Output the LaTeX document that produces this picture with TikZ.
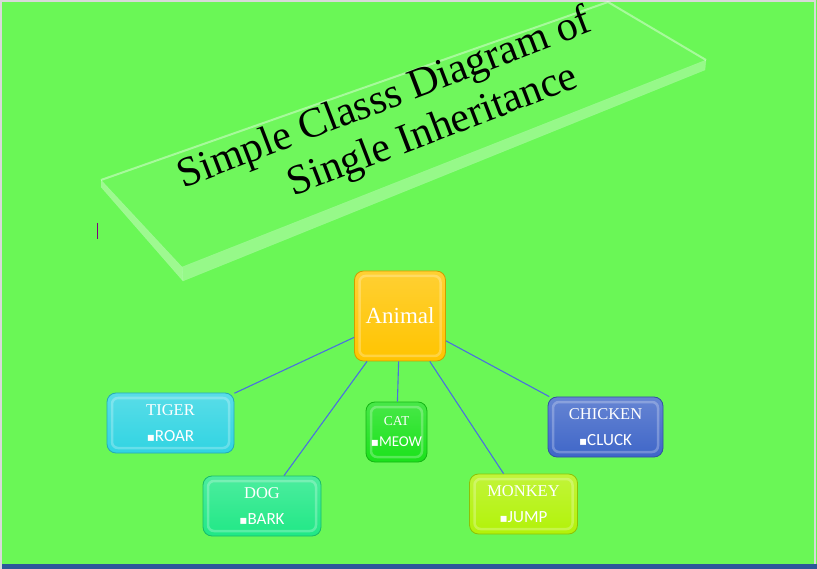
\documentclass[tikz,border=0pt]{standalone}
\usepackage{fontspec}
\setmainfont{Liberation Serif}
\newfontfamily\bulletfont{Carlito}
\newfontfamily\symfont{DejaVu Sans}
\usetikzlibrary{positioning}
\definecolor{bggreen}{HTML}{6AF756}
\definecolor{linkblue}{HTML}{4A6FE0}
\definecolor{barblue}{HTML}{2B579A}
\definecolor{animalc}{HTML}{FFC400}
\definecolor{tigerc}{HTML}{30D4E2}
\definecolor{dogc}{HTML}{20E886}
\definecolor{catc}{HTML}{1AE21A}
\definecolor{monkeyc}{HTML}{B2F208}
\definecolor{chickenc}{HTML}{3F66C8}
\newcommand{\clstext}[3][16.5]{{\fontsize{#1}{26}\selectfont #2}\\{\bulletfont{\symfont\fontsize{12}{12}\selectfont ▪}#3}}
\begin{document}
\begin{tikzpicture}[x=1pt,y=-1pt,
    clsbox/.style={rounded corners=9pt,draw=#1!80!black,line width=0.8pt,
      top color=#1!80!white,bottom color=#1,text=white,align=center,
      inner sep=0pt,minimum width=118pt,minimum height=60pt,
      font=\fontsize{17}{26}\selectfont,
      path picture={\draw[white,opacity=.25,line width=2.5pt,rounded corners=6pt]
        ([shift={(5pt,-5pt)}]path picture bounding box.north west) rectangle
        ([shift={(-5pt,5pt)}]path picture bounding box.south east);}},
    link/.style={linkblue,line width=1.1pt},
    titletext/.style={rotate=21,font=\fontsize{42}{42}\selectfont,inner sep=0pt}]
  \useasboundingbox (0,0) rectangle (817,569);
  \fill[bggreen] (0,0) rectangle (817,564);
  \fill[barblue] (0,564) rectangle (817,569);
  \draw[gray!30,line width=1.5pt] (1,569) -- (1,1) -- (815,1) -- (815,564);
  % glass plate with the title
  \coordinate (a) at (101,180);
  \coordinate (b) at (608,2);
  \coordinate (c) at (706,60);
  \coordinate (d) at (182,267);
  \fill[white,opacity=.04] (a) -- (b) -- (c) -- (d) -- cycle;
  \filldraw[white,opacity=.35,draw=white!70!green] (a) -- (d) -- (183,281) -- (101,187) -- cycle;
  \filldraw[white,opacity=.30,draw=white!70!green] (d) -- (c) -- (705,70) -- (183,281) -- cycle;
  \draw[white,opacity=.4,line width=2pt] (a) -- (b) -- (c);
  \node[titletext] (title1) at (385,100) {Simple Classs Diagram of};
  \node[titletext] (title2) at (433,132) {Single Inheritance};
  \draw[violet,line width=1pt] (97,223) -- (97,239);
  % classes
  \node[clsbox=animalc,minimum width=91pt,minimum height=90pt,
    font=\fontsize{23}{26}\selectfont] (animal) at (400,316) {Animal};
  \node[clsbox=tigerc,minimum width=127pt] (tiger) at (170.5,423) {\clstext{TIGER}{ROAR}};
  \node[clsbox=dogc] (dog) at (262,506) {\clstext{DOG}{BARK}};
  \node[clsbox=catc,minimum width=61pt,font=\fontsize{15}{21}\selectfont] (cat) at (396.5,432) {\clstext[13.5]{CAT}{MEOW}};
  \node[clsbox=monkeyc,minimum width=108pt] (monkey) at (523.5,504) {\clstext{MONKEY}{JUMP}};
  \node[clsbox=chickenc,minimum width=115pt] (chicken) at (605.5,427) {\clstext{CHICKEN}{CLUCK}};
  \foreach \n in {tiger,dog,cat,monkey,chicken}
    \draw[link] (animal) -- (\n);
\end{tikzpicture}
\end{document}
